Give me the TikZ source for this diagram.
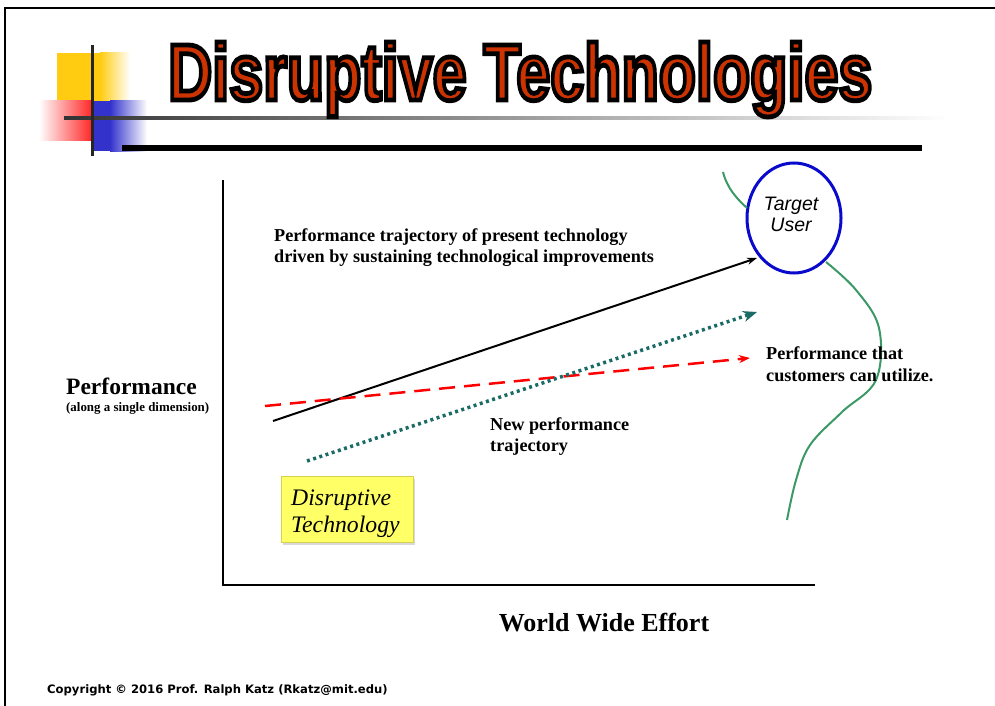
\documentclass[tikz,border=0pt]{standalone}
\usepackage{fontspec}
\usepackage{graphicx}
\setmainfont{Liberation Serif}
\newfontfamily\arialf{Liberation Sans}
\newfontfamily\verdf{DejaVu Sans}
\newfontfamily\titlef[FakeBold=6]{Liberation Sans Bold}
\usetikzlibrary{arrows.meta,shapes.geometric}
\definecolor{titlered}{HTML}{CC3300}
\definecolor{teal2}{HTML}{1A6B66}
\definecolor{green2}{HTML}{3A9966}
\definecolor{blue2}{HTML}{0A0ACC}
\definecolor{logoyellow}{HTML}{FFCC11}
\definecolor{logoblue}{HTML}{3333CC}
\definecolor{boxyellow}{HTML}{FFFF66}
\definecolor{boxborder}{HTML}{D8D050}
\tikzset{
  lbl/.style={inner sep=0pt, align=left, anchor=north west, font=\bfseries\fontsize{18.2}{21.5}\selectfont},
  axisline/.style={line width=2.5pt, black},
}
\begin{document}
\begin{tikzpicture}[x=1pt,y=-1pt]
\useasboundingbox (0,0) rectangle (995,706);
% frame
\draw[line width=2pt] (5,706) -- (5,8) -- (995,8);
% logo
\fill[logoyellow] (57,53) rectangle (100,101);
\shade[left color=logoyellow, right color=white] (100,53) rectangle (130,101);
\shade[left color=white, right color=red!85] (39,101) rectangle (92,140);
\fill[logoblue] (92,101) rectangle (110,151);
\shade[left color=logoblue, right color=white] (110,101) rectangle (147,151);
\shade[left color=black!80, right color=white] (64,116.5) rectangle (950,119.5);
\draw[line width=3pt, black!85] (92,45) -- (92,156);
\fill[black] (122,145) rectangle (922,151);
% title
\node[inner sep=0pt, anchor=base west] (title) at (168,100)
  {\resizebox{704pt}{58pt}{\color{titlered}\special{pdf:code 0 0 0 RG}\titlef Disruptive Technologies}};
% axes
\coordinate (ytop) at (223,180);
\coordinate (origin) at (223,585);
\coordinate (xend) at (815,585);
\draw[axisline] (ytop) -- (origin) -- (xend);
% target user
\node[ellipse, draw=blue2, line width=3pt, minimum width=94pt, minimum height=110pt, inner sep=0pt] (tu) at (794,218) {};
\node[inner sep=0pt, align=center, font=\arialf\itshape\fontsize{19.5}{21}\selectfont] (tutext) at (791,214) {Target\\User};
% green curve
\draw[green2, line width=2pt] (723,172) .. controls (727,188) and (737,199) .. (747,208);
\draw[green2, line width=2pt] plot[smooth, tension=0.6] coordinates {(826,262) (856,290) (879,328) (876,380) (842,412) (810,445) (796,480) (787,520)};
% lines
\coordinate (b1) at (273,421);
\coordinate (b2) at (757,258);
\draw[line width=2pt, -{Stealth[length=10pt,width=7pt]}] (b1) -- (b2);
\coordinate (r1) at (265,406);
\coordinate (r2) at (750,358);
\draw[red, line width=2.5pt, dash pattern=on 16pt off 9pt, -{Stealth[length=11pt,width=8pt]}] (r1) -- (r2);
\coordinate (t1) at (307,461);
\coordinate (t2) at (757,312);
\draw[teal2, line width=3.5pt, dash pattern=on 3pt off 3.5pt, -{Stealth[length=14pt,width=11pt]}] (t1) -- (t2);
% labels
\node[lbl] (ptext) at (274,228) {Performance trajectory of present technology\\driven by sustaining technological improvements};
\node[lbl, font=\bfseries\fontsize{18.2}{22}\selectfont] (ctext) at (766,346) {Performance that\\customers can utilize.};
\node[lbl] (ntext) at (490,417) {New performance\\trajectory};
\node[inner sep=0pt, anchor=base west, font=\bfseries\fontsize{23.5}{26}\selectfont] (perf) at (66,394) {Performance};
\node[inner sep=0pt, anchor=base west, font=\bfseries\fontsize{12.9}{14}\selectfont] (along) at (66,411) {(along a single dimension)};
\node[inner sep=0pt, anchor=base, font=\bfseries\fontsize{26}{30}\selectfont] (wwe) at (604,631) {World Wide Effort};
% disruptive technology box
\fill[black!15] (283,479) rectangle (415,545);
\node[draw=boxborder, fill=boxyellow, line width=1pt, minimum width=132pt, minimum height=66pt, anchor=north west] (dtbox) at (281,476) {};
\node[inner sep=0pt, align=left, anchor=north west, font=\itshape\fontsize{23.7}{27}\selectfont] (dttext) at (291,490) {Disruptive\\Technology};
% copyright
\node[inner sep=0pt, anchor=base west, font=\verdf\bfseries\fontsize{11.6}{13}\selectfont] (copy) at (47,693) {Copyright © 2016 Prof. Ralph Katz (Rkatz@mit.edu)};
\end{tikzpicture}
\end{document}
